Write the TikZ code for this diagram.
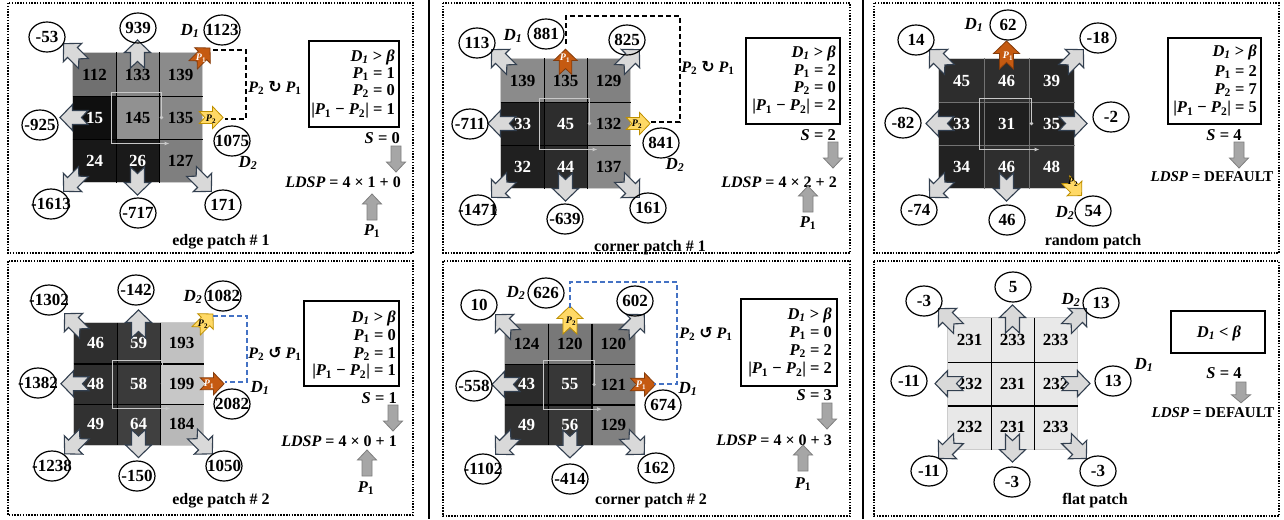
\documentclass[tikz,border=0pt]{standalone}
\usepackage{fontspec}
\setmainfont{Liberation Serif}
\newfontfamily\arrfont{DejaVu Sans}
\usetikzlibrary{shapes.geometric,arrows.meta}
\definecolor{afill}{HTML}{D9D9D9}
\definecolor{aline}{HTML}{323F4F}
\definecolor{ofill}{HTML}{C55A11}
\definecolor{oline}{HTML}{843C0C}
\definecolor{yfill}{HTML}{FFD966}
\definecolor{yline}{HTML}{BF9000}
\definecolor{bfill}{HTML}{A6A6A6}
\definecolor{bline}{HTML}{7F7F7F}
\definecolor{dblue}{HTML}{4472C4}
\definecolor{framec}{HTML}{C8C8C8}
\newcommand\numfont{\fontsize{17}{17}\selectfont\bfseries}
\newcommand\Pp[1]{{\itshape P}\textsubscript{#1}}
\newcommand\Dd[1]{{\itshape D\textsubscript{#1}}}
\newcommand\bet{{\itshape β}}
\newcommand\cn[4]{\node[circ] (#1) at (#2,#3) {\makebox[0pt]{#4}};}
\newcommand\mkgrid[7][black]{%
  \foreach \v [count=\i from 0] in {#7} {
    \pgfmathtruncatemacro\rr{int(\i/3)}
    \pgfmathtruncatemacro\cc{mod(\i,3)}
    \definecolor{cellc}{RGB}{\v,\v,\v}
    \ifnum\v<100\relax \def\tc{white}\else\def\tc{black}\fi
    \node[cellnode, fill=cellc, text=\tc, minimum width={#5pt+0.6pt}, minimum height={#6pt+0.6pt}]
      (#2c\rr\cc) at ({#3+#5*(\cc+0.5)},{#4+#6*(\rr+0.5)}) {\v};
  }
  \draw[gborder] (#2c00.north west) rectangle (#2c22.south east);
  \draw[gline, draw=#1] (#2c00.north east) -- (#2c20.south east);
  \draw[gline, draw=#1] (#2c01.north east) -- (#2c21.south east);
  \draw[gline, draw=#1] (#2c00.south west) -- (#2c02.south east);
  \draw[gline, draw=#1] (#2c10.south west) -- (#2c12.south east);
}
\newcommand\cframe[1]{%
  \draw[framel] ([xshift=2pt]#1c11.east) -- ([xshift=2pt,yshift=3pt]#1c11.north east)
    -- ([xshift=-4pt,yshift=3pt]#1c11.north west) -- ([xshift=-4pt,yshift=-4pt]#1c11.south west)
    -- ([xshift=10pt,yshift=-4pt]#1c11.south east);
  \fill[framec] ([xshift=2pt]#1c11.east) circle (1.8pt);
}
\tikzset{
  darr/.pic={\path[pic actions] (12.5,0) -- (0,13) -- (0,7) -- (-15.5,7) -- (-9,0) -- (-15.5,-7) -- (0,-7) -- (0,-13) -- cycle;},
  barr/.pic={\path[pic actions] (0,5) -- (16,5) -- (16,9.5) -- (26,0) -- (16,-9.5) -- (16,-5) -- (0,-5) -- cycle;},
  garr/.style={draw=aline, fill=afill, line width=1.1pt, line join=miter},
  oarr/.style={draw=oline, fill=ofill, line width=0.8pt, line join=miter},
  yarr/.style={draw=yline, fill=yfill, line width=0.8pt, line join=miter},
  blk/.style={draw=bline, fill=bfill, line width=0.8pt},
  circ/.style={ellipse, draw, line width=1.2pt, minimum width=36pt, minimum height=30pt, inner sep=0pt, font=\numfont},
  cellnode/.style={inner sep=0pt, font=\numfont},
  gline/.style={line width=1.3pt},
  gborder/.style={draw=black!20, line width=0.8pt},
  framel/.style={draw=framec, line width=1pt, -{Latex[length=5pt,width=4pt]}},
  plab/.style={inner sep=0pt, font=\fontsize{10}{10}\selectfont\bfseries},
  mtxt/.style={inner sep=0pt, font=\fontsize{16}{18}\selectfont\bfseries},
  rtxt/.style={inner sep=0pt, font=\fontsize{16.5}{18}\selectfont\bfseries},
  dtxt/.style={inner sep=0pt, font=\fontsize{15}{18}\selectfont\bfseries},
  dlab/.style={inner sep=0pt, font=\fontsize{17}{17}\selectfont\bfseries},
  capt/.style={inner sep=0pt, font=\fontsize{16}{16}\selectfont\bfseries},
  rbox/.style={draw, line width=1.2pt, inner sep=0pt},
  panelb/.style={line width=1.5pt, dash pattern=on 1.5pt off 1.3pt},
  dblk/.style={line width=1.8pt, dash pattern=on 5pt off 3pt},
  dblu/.style={draw=dblue, line width=1.8pt, dash pattern=on 5pt off 3pt},
  sepl/.style={line width=2pt},
}
\begin{document}
\begin{tikzpicture}[x=1pt,y=-1pt]
\useasboundingbox (0,0) rectangle (1284,519);
\fill[white] (0,0) rectangle (1284,519);
\draw[sepl] (429,0) -- (429,519);
\draw[sepl] (863,0) -- (863,519);

% ===== panel 1: edge patch # 1
\draw[panelb] (8,3) rectangle (413,253);
\mkgrid{a}{73}{53}{43}{43}{112,133,139,15,145,135,24,26,127}
\cframe{a}
\pic[garr, rotate=135] at (ac00.north west) {darr};
\pic[garr, rotate=90] at (ac01.north) {darr};
\pic[garr, rotate=180] at (ac10.west) {darr};
\pic[garr, rotate=225] at (ac20.south west) {darr};
\pic[garr, rotate=270] at (ac21.south) {darr};
\pic[garr, rotate=315] at (ac22.south east) {darr};
\pic[oarr, rotate=45, scale=.85] at ([yshift=-3pt]ac02.north east) {darr};
\node[plab, text=white] (aP1) at (201,58) {\Pp{1}};
\pic[yarr, scale=.85] at ([xshift=10pt]ac12.east) {darr};
\node[plab] (aP2) at (211,119) {\Pp{2}};
\coordinate (aA) at (213,50); \coordinate (aB) at (225,119);
\draw[dblk] (aA) -- (246,50) |- (aB);
\cn{a1}{47}{37}{-53} \cn{a2}{138}{28}{939} \cn{a3}{222}{30}{1123}
\cn{a4}{40}{125}{-925} \cn{a5}{232}{141}{1075}
\cn{a6}{51}{204}{-1613} \cn{a7}{138}{213}{-717} \cn{a8}{223}{205}{171}
\node[dlab] (aD1) at (190,31) {\Dd{1}};
\node[dlab] (aD2) at (248,163) {\Dd{2}};
\node[mtxt] (aRot) at (275,88) {\Pp{2} {\arrfont ↻} \Pp{1}};
\node[rbox, minimum width=90pt, minimum height=86pt] (aBox) at (354,84) {};
\node[rtxt, anchor=east] (aL1) at (395,57) {\Dd{1} > \bet};
\node[rtxt, anchor=east] (aL2) at (395,74) {\Pp{1} = 1};
\node[rtxt, anchor=east] (aL3) at (395,91) {\Pp{2} = 0};
\node[rtxt, anchor=east] (aL4) at (395,111) {|\Pp{1} − \Pp{2}| = 1};
\node[rtxt, anchor=east] (aS) at (400,138) {\textit{S} = 0};
\pic[blk, rotate=-90] at (396,146) {barr};
\node[mtxt, anchor=east] (aLD) at (401,182) {\textit{LDSP} = 4 × 1 + 0};
\pic[blk, rotate=90] at (372,220) {barr};
\node[rtxt] (aPP) at (372,231) {\Pp{1}};
\node[capt] (aCap) at (221,242) {edge patch \# 1};

% ===== panel 2: corner patch # 1
\draw[panelb] (443,3) rectangle (850,253);
\mkgrid{b}{501}{59}{43}{43}{139,135,129,33,45,132,32,44,137}
\cframe{b}
\pic[garr, rotate=135] at (bc00.north west) {darr};
\pic[garr, rotate=45] at (bc02.north east) {darr};
\pic[garr, rotate=180] at (bc10.west) {darr};
\pic[garr, rotate=225] at (bc20.south west) {darr};
\pic[garr, rotate=270] at (bc21.south) {darr};
\pic[garr, rotate=315] at (bc22.south east) {darr};
\pic[oarr, rotate=90, scale=.9] at ([yshift=-2pt]bc01.north) {darr};
\node[plab, text=white] (bP1) at (565,58) {\Pp{1}};
\pic[yarr, scale=.85] at ([xshift=9pt]bc12.east) {darr};
\node[plab] (bP2) at (637,124) {\Pp{2}};
\coordinate (bA) at (566,44); \coordinate (bB) at (650,122);
\draw[dblk] (bA) |- (680,16) |- (bB);
\cn{b1}{477}{43}{113} \cn{b2}{546}{34}{881} \cn{b3}{627}{40}{825}
\cn{b4}{470}{124}{-711} \cn{b5}{661}{143}{841}
\cn{b6}{478}{210}{-1471} \cn{b7}{565}{219}{-639} \cn{b8}{648}{208}{161}
\node[dlab] (bD1) at (513,36) {\Dd{1}};
\node[dlab] (bD2) at (675,165) {\Dd{2}};
\node[mtxt] (bRot) at (708,68) {\Pp{2} {\arrfont ↻} \Pp{1}};
\node[rbox, minimum width=94pt, minimum height=86pt] (bBox) at (793,81) {};
\node[rtxt, anchor=east] (bL1) at (836,53) {\Dd{1} > \bet};
\node[rtxt, anchor=east] (bL2) at (836,71) {\Pp{1} = 2};
\node[rtxt, anchor=east] (bL3) at (836,88) {\Pp{2} = 0};
\node[rtxt, anchor=east] (bL4) at (836,107) {|\Pp{1} − \Pp{2}| = 2};
\node[rtxt, anchor=east] (bS) at (836,135) {\textit{S} = 2};
\pic[blk, rotate=-90] at (833,142) {barr};
\node[mtxt, anchor=east] (bLD) at (837,182) {\textit{LDSP} = 4 × 2 + 2};
\pic[blk, rotate=90] at (808,212) {barr};
\node[rtxt] (bPP) at (808,223) {\Pp{1}};
\node[capt] (bCap) at (650,248) {corner patch \# 1};

% ===== panel 3: random patch
\draw[panelb] (874,3) rectangle (1279,253);
\mkgrid[black!55]{c}{939}{59}{45}{43}{45,46,39,33,31,35,34,46,48}
\cframe{c}
\pic[garr, rotate=135] at (cc00.north west) {darr};
\pic[garr, rotate=45] at (cc02.north east) {darr};
\pic[garr, rotate=180] at (cc10.west) {darr};
\pic[garr, rotate=0] at (cc12.east) {darr};
\pic[garr, rotate=225] at (cc20.south west) {darr};
\pic[garr, rotate=270] at (cc21.south) {darr};
\pic[oarr, rotate=90] at ([yshift=5pt]cc01.north) {darr};
\node[plab, text=white] (cP1) at (1008,56) {\Pp{1}};
\pic[yarr, rotate=315, scale=.8] at (cc22.south east) {darr};
\node[plab] (cP2) at (1073,182) {\Pp{2}};
\cn{c1}{916}{40}{14} \cn{c2}{1008}{25}{62} \cn{c3}{1098}{38}{-18}
\cn{c4}{903}{123}{-82} \cn{c5}{1111}{117}{-2}
\cn{c6}{919}{210}{-74} \cn{c7}{1007}{220}{46} \cn{c8}{1093}{211}{54}
\node[dlab] (cD1) at (974,25) {\Dd{1}};
\node[dlab] (cD2) at (1065,213) {\Dd{2}};
\node[rbox, minimum width=93pt, minimum height=86pt] (cBox) at (1214.5,81) {};
\node[rtxt, anchor=east] (cL1) at (1257,52) {\Dd{1} > \bet};
\node[rtxt, anchor=east] (cL2) at (1257,72) {\Pp{1} = 2};
\node[rtxt, anchor=east] (cL3) at (1257,90) {\Pp{2} = 7};
\node[rtxt, anchor=east] (cL4) at (1257,109) {|\Pp{1} − \Pp{2}| = 5};
\node[rtxt] (cS) at (1224,135) {\textit{S} = 4};
\pic[blk, rotate=-90] at (1239,142) {barr};
\node[dtxt] (cLD) at (1212,177) {\textit{LDSP} = DEFAULT};
\node[capt] (cCap) at (1093,242) {random patch};

% ===== panel 4: edge patch # 2
\draw[panelb] (8,261) rectangle (413,515);
\mkgrid{d}{74}{323}{43}{40.5}{46,59,193,48,58,199,49,64,184}
\cframe{d}
\pic[garr, rotate=135] at (dc00.north west) {darr};
\pic[garr, rotate=90] at (dc01.north) {darr};
\pic[garr, rotate=180] at (dc10.west) {darr};
\pic[garr, rotate=225] at (dc20.south west) {darr};
\pic[garr, rotate=270] at (dc21.south) {darr};
\pic[garr, rotate=315] at (dc22.south east) {darr};
\pic[yarr, rotate=45, scale=.85] at ([xshift=2pt,yshift=1pt]dc02.north east) {darr};
\node[plab] (dP2) at (203,324) {\Pp{2}};
\pic[oarr, scale=.85] at ([xshift=10pt]dc12.east) {darr};
\node[plab, text=white] (dP1) at (209,384) {\Pp{1}};
\coordinate (dA) at (213,316); \coordinate (dB) at (225,382);
\draw[dblu] (dA) -- (247,316) |- (dB);
\cn{d1}{49}{300}{-1302} \cn{d2}{136}{290}{-142} \cn{d3}{223}{296}{1082}
\cn{d4}{38}{383}{-1382} \cn{d5}{232}{404}{2082}
\cn{d6}{52}{466}{-1238} \cn{d7}{137}{476}{-150} \cn{d8}{224}{466}{1050}
\node[dlab] (dD2) at (193,297) {\Dd{2}};
\node[dlab] (dD1) at (260,388) {\Dd{1}};
\node[mtxt] (dRot) at (275,354) {\Pp{2} {\arrfont ↺} \Pp{1}};
\node[rbox, minimum width=95pt, minimum height=85pt] (dBox) at (351.5,343.5) {};
\node[rtxt, anchor=east] (dL1) at (396,318) {\Dd{1} > \bet};
\node[rtxt, anchor=east] (dL2) at (396,336) {\Pp{1} = 0};
\node[rtxt, anchor=east] (dL3) at (396,354) {\Pp{2} = 1};
\node[rtxt, anchor=east] (dL4) at (396,372) {|\Pp{1} − \Pp{2}| = 1};
\node[rtxt, anchor=east] (dS) at (397,398) {\textit{S} = 1};
\pic[blk, rotate=-90] at (393,405) {barr};
\node[mtxt, anchor=east] (dLD) at (397,441) {\textit{LDSP} = 4 × 0 + 1};
\pic[blk, rotate=90] at (367,476) {barr};
\node[rtxt] (dPP) at (366,488) {\Pp{1}};
\node[capt] (dCap) at (221,501) {edge patch \# 2};

% ===== panel 5: corner patch # 2
\draw[panelb] (443,261) rectangle (850,516);
\mkgrid{e}{505}{324}{43.3}{40.3}{124,120,120,43,55,121,49,56,129}
\cframe{e}
\pic[garr, rotate=135] at (ec00.north west) {darr};
\pic[garr, rotate=45] at (ec02.north east) {darr};
\pic[garr, rotate=180] at (ec10.west) {darr};
\pic[garr, rotate=225] at (ec20.south west) {darr};
\pic[garr, rotate=270] at (ec21.south) {darr};
\pic[garr, rotate=315] at (ec22.south east) {darr};
\pic[yarr, rotate=90] at ([yshift=5pt]ec01.north) {darr};
\node[plab] (eP2) at (571,321) {\Pp{2}};
\pic[oarr, scale=.9] at ([xshift=9pt]ec12.east) {darr};
\node[plab, text=white] (eP1) at (641,385) {\Pp{1}};
\coordinate (eA) at (570,308); \coordinate (eB) at (654,384);
\draw[dblu] (eA) |- (677,282) |- (eB);
\cn{e1}{479}{305}{10} \cn{e2}{546}{293}{626} \cn{e3}{635}{301}{602}
\cn{e4}{474}{386}{-558} \cn{e5}{663}{405}{674}
\cn{e6}{483}{469}{-1102} \cn{e7}{570}{479}{-414} \cn{e8}{656}{468}{162}
\node[dlab] (eD2) at (516,293) {\Dd{2}};
\node[dlab] (eD1) at (688,389) {\Dd{1}};
\node[mtxt] (eRot) at (706,334) {\Pp{2} {\arrfont ↺} \Pp{1}};
\node[rbox, minimum width=96pt, minimum height=87pt] (eBox) at (789,342.5) {};
\node[rtxt, anchor=east] (eL1) at (832,315) {\Dd{1} > \bet};
\node[rtxt, anchor=east] (eL2) at (832,333) {\Pp{1} = 0};
\node[rtxt, anchor=east] (eL3) at (832,351) {\Pp{2} = 2};
\node[rtxt, anchor=east] (eL4) at (832,370) {|\Pp{1} − \Pp{2}| = 2};
\node[rtxt, anchor=east] (eS) at (832,395) {\textit{S} = 3};
\pic[blk, rotate=-90] at (827,403) {barr};
\node[mtxt, anchor=east] (eLD) at (832,440) {\textit{LDSP} = 4 × 0 + 3};
\pic[blk, rotate=90] at (803,471) {barr};
\node[rtxt] (ePP) at (803,484) {\Pp{1}};
\node[capt] (eCap) at (651,501) {corner patch \# 2};

% ===== panel 6: flat patch
\draw[panelb] (874,261) rectangle (1279,516);
\mkgrid{f}{948}{318}{43}{43.7}{231,233,233,232,231,232,232,231,233}
\pic[garr, rotate=135] at (fc00.north west) {darr};
\pic[garr, rotate=90] at (fc01.north) {darr};
\pic[garr, rotate=45] at (fc02.north east) {darr};
\pic[garr, rotate=180] at (fc10.west) {darr};
\pic[garr, rotate=0] at (fc12.east) {darr};
\pic[garr, rotate=225] at (fc20.south west) {darr};
\pic[garr, rotate=270] at (fc21.south) {darr};
\pic[garr, rotate=315] at (fc22.south east) {darr};
\cn{f1}{924}{301}{-3} \cn{f2}{1013}{287}{5} \cn{f3}{1101}{303}{13}
\cn{f4}{909}{381}{-11} \cn{f5}{1113}{381}{13}
\cn{f6}{929}{471}{-11} \cn{f7}{1012}{482}{-3} \cn{f8}{1098}{471}{-3}
\node[dlab] (fD2) at (1071,300) {\Dd{2}};
\node[dlab] (fD1) at (1144,365) {\Dd{1}};
\node[rbox, minimum width=94pt, minimum height=42pt] (fBox) at (1218,332) {};
\node[rtxt] (fL1) at (1219,333) {\Dd{1} < \bet};
\node[rtxt] (fS) at (1224,373) {\textit{S} = 4};
\pic[blk, rotate=-90, xscale=.8] at (1241,382) {barr};
\node[dtxt] (fLD) at (1213,413) {\textit{LDSP} = DEFAULT};
\node[capt] (fCap) at (1095,501) {flat patch};
\end{tikzpicture}
\end{document}
